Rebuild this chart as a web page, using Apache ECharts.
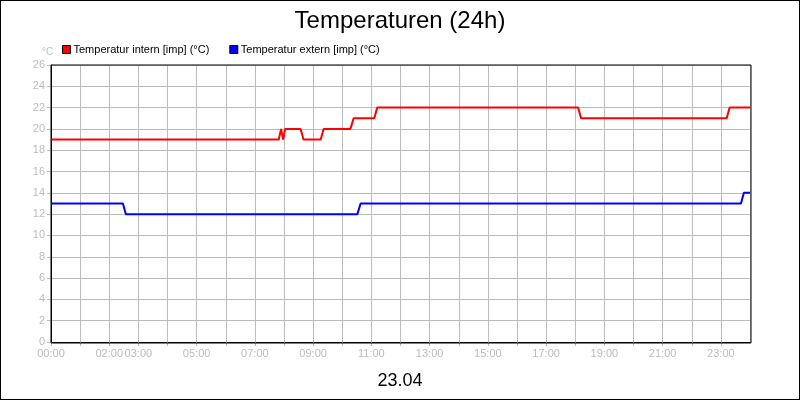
<!DOCTYPE html>
<html><head><meta charset="utf-8">
<script src="https://cdn.jsdelivr.net/npm/echarts@6/dist/echarts.min.js"></script>
<style>html,body{margin:0;padding:0}#c{width:798px;height:398px;border:1px solid #000}</style>
</head><body><div id="c"></div>
<script>
var internTimes = [0, 7.82, 7.9, 7.97, 8.04, 8.57, 8.67, 9.26, 9.36, 10.28, 10.39, 11.1, 11.2, 18.1, 18.2, 23.2, 23.3, 24];
var internVals  = [19, 19, 20, 19, 20, 20, 19, 19, 20, 20, 21, 21, 22, 22, 21, 21, 22, 22];
var externTimes = [0, 2.47, 2.57, 10.52, 10.63, 23.69, 23.79, 24];
var externVals  = [13, 13, 12, 12, 13, 13, 14, 14];
var tickHours = [0, 2, 3, 5, 7, 9, 11, 13, 15, 17, 19, 21, 23];
function pairs(t, v){return t.map(function(x,i){return [x, v[i]];});}
var chart = echarts.init(document.getElementById('c'));
var gray = '#bbb';
chart.setOption({
  animation:false,
  backgroundColor:'#fff',
  title:[{text:'Temperaturen (24h)',left:'center',top:3,textStyle:{fontFamily:'Liberation Sans',fontSize:24,fontWeight:'normal',color:'#000'}},
         {text:'23.04',left:'center',top:366,textStyle:{fontFamily:'Liberation Sans',fontSize:18,fontWeight:'normal',color:'#000'}},
         {text:'°C',left:36,top:41,textStyle:{fontFamily:'Liberation Sans',fontSize:10,fontWeight:'normal',color:gray}}],
  legend:{left:56,top:38,itemWidth:8,itemHeight:8,itemGap:20,icon:'rect',
    textStyle:{fontFamily:'Liberation Sans',fontSize:11,color:'#000',padding:[0,0,0,-2]},
    data:[{name:'Temperatur intern [imp] (°C)',itemStyle:{color:'#f00',borderColor:'#000',borderWidth:1}},
          {name:'Temperatur extern [imp] (°C)',itemStyle:{color:'#00f',borderColor:'#000',borderWidth:1}}]},
  grid:{left:50,right:49,top:64,bottom:57},
  xAxis:{type:'value',min:0,max:24,interval:1,
    axisLine:{lineStyle:{color:'#000'}},
    axisTick:{show:true,length:4,lineStyle:{color:gray}},
    axisLabel:{color:gray,fontFamily:'Liberation Sans',fontSize:11,margin:6,showMaxLabel:false,
      formatter:function(v){return tickHours.indexOf(v)>=0?((v<10?'0':'')+v+':00'):'';}},
    splitLine:{show:true,lineStyle:{color:gray}}},
  yAxis:{type:'value',min:0,max:26,interval:2,
    axisLine:{show:true,lineStyle:{color:'#000'}},
    axisTick:{show:true,length:4,lineStyle:{color:gray}},
    axisLabel:{color:gray,fontFamily:'Liberation Sans',fontSize:11,margin:6},
    splitLine:{show:true,lineStyle:{color:gray}}},
  series:[
    {name:'Temperatur intern [imp] (°C)',type:'line',data:pairs(internTimes,internVals),showSymbol:false,color:'#f00',lineStyle:{width:2,color:'#f00'}},
    {name:'Temperatur extern [imp] (°C)',type:'line',data:pairs(externTimes,externVals),showSymbol:false,color:'#00f',lineStyle:{width:2,color:'#00f'}}
  ]
});
// top and right frame
chart.setOption({graphic:[{type:'rect',shape:{x:50,y:64,width:700,height:278},style:{fill:'none',stroke:'#000',lineWidth:1},silent:true,z:10}]});
</script></body></html>
